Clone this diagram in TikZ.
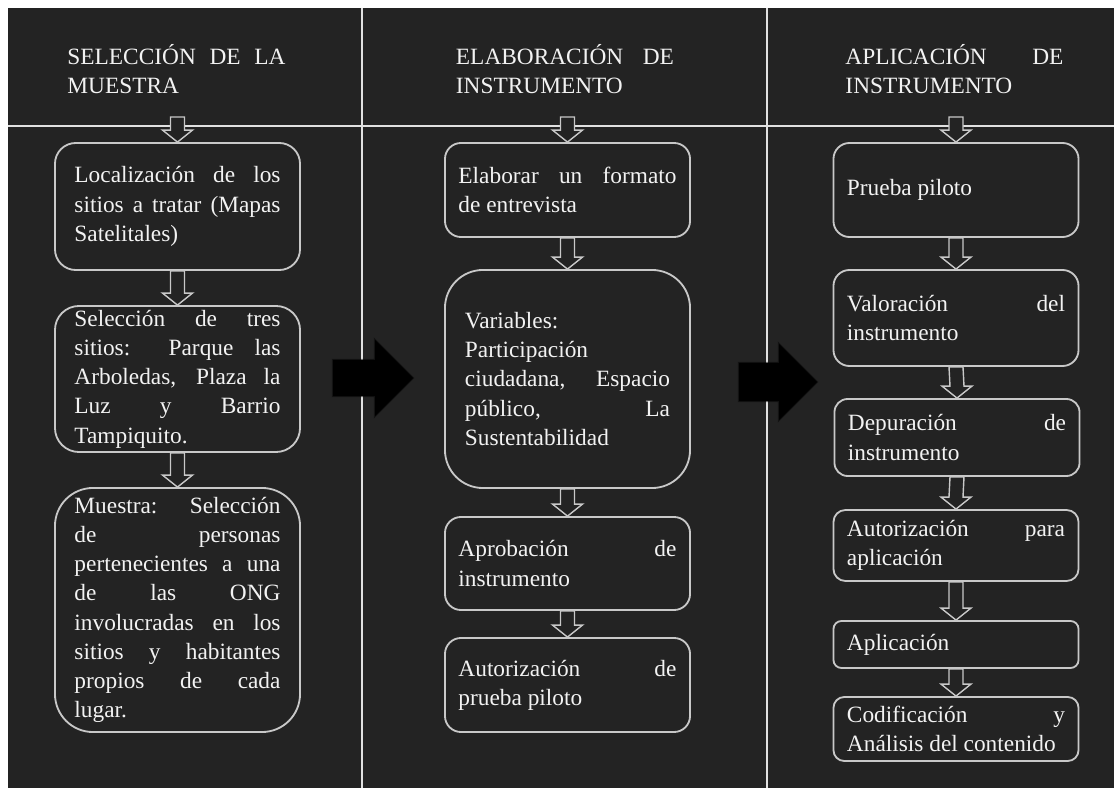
\documentclass[tikz,border=0pt]{standalone}
\usepackage{fontspec}
\setmainfont{Liberation Serif}
\usetikzlibrary{calc}
\definecolor{fondo}{RGB}{35,35,35}
\definecolor{borde}{RGB}{200,200,200}
\definecolor{divisor}{RGB}{225,225,225}
\definecolor{letra}{RGB}{242,242,242}
\tolerance=9999
\hbadness=10000
\hyphenpenalty=10000

% flecha hueca entre dos cajas
\newcommand{\flecha}[2]{%
  \draw[hueca] ($(#1)+(-7,0)$) -- ($(#2)+(-7,-12)$) -- ($(#2)+(-15,-12)$)
    -- (#2) -- ($(#2)+(15,-12)$) -- ($(#2)+(7,-12)$) -- ($(#1)+(7,0)$) -- cycle;}

% flecha negra: punta, largo de la cola, medio ancho de la cola
\newcommand{\flechanegra}[3]{%
  \fill[negra] ($(#1)+(-38-#2,-#3)$) -- ($(#1)+(-38,-#3)$) -- ($(#1)+(-38,-38)$) -- (#1)
    -- ($(#1)+(-38,38)$) -- ($(#1)+(-38,#3)$) -- ($(#1)+(-38-#2,#3)$) -- cycle;}

\begin{document}
\begin{tikzpicture}[x=0.025cm, y=-0.025cm,
    texto/.style={text=letra, align=justify, font=\fontsize{16.6}{20.8}\selectfont},
    caja/.style={texto, draw=borde, line width=1.3pt, fill=fondo, text width=5.45cm, inner xsep=0.3375cm, inner ysep=0pt},
    cajaizq/.style={caja, text width=5.15cm, inner xsep=0.4875cm},
    titulo/.style={texto, text width=5.45cm, inner sep=0pt},
    hueca/.style={draw=borde, line width=1pt, fill=fondo},
    negra/.style={fill=black, draw=black, draw opacity=0.45, line width=1.5pt, line join=miter}]

    % Fondo
    \useasboundingbox (0,0) rectangle (1114,788);
    \fill[white] (0,0) rectangle (1114,788);
    \fill[fondo] (8,8) rectangle (1114,788);

    % Divisiones
    \draw[divisor, line width=1.3pt] (8,126) -- (1114,126);
    \foreach \x in {362, 767} {
        \draw[divisor, line width=1.3pt] (\x,8) -- (\x,788);
    }

    % Títulos
    \node[titulo] (tit1) at (176.5,69) {SELECCIÓN DE LA\linebreak MUESTRA};
    \node[titulo] (tit2) at (565,69) {ELABORACIÓN DE\linebreak INSTRUMENTO};
    \node[titulo] (tit3) at (954.5,69) {APLICACIÓN DE\linebreak INSTRUMENTO};

    % Selección de la muestra
    \node[cajaizq, minimum height=3.175cm, rounded corners=0.52cm] (sel1) at (177.5,206.5)
        {Localización de los\linebreak sitios a tratar (Mapas\linebreak Satelitales)};
    \node[cajaizq, minimum height=3.65cm, rounded corners=0.6cm] (sel2) at (177.5,379)
        {Selección de tres\linebreak sitios: Parque las\linebreak Arboledas, Plaza la\linebreak Luz y Barrio\linebreak Tampiquito.};
    \node[cajaizq, minimum height=6.1cm, rounded corners=0.95cm] (sel3) at (177.5,610)
        {Muestra: Selección\linebreak de personas\linebreak pertenecientes a una\linebreak de las ONG\linebreak involucradas en los\linebreak sitios y habitantes\linebreak propios de cada\linebreak lugar.};

    % Elaboración de instrumento
    \node[caja, minimum height=2.35cm, rounded corners=0.4cm] (ela1) at (567.5,190)
        {Elaborar un formato\linebreak de entrevista};
    \node[caja, minimum height=5.45cm, rounded corners=0.95cm, text width=5.125cm, inner xsep=0.5cm] (ela2) at (567.5,379)
        {Variables:\linebreak Participación\linebreak ciudadana, Espacio\linebreak público, La\linebreak Sustentabilidad};
    \node[caja, minimum height=2.325cm, rounded corners=0.4cm] (ela3) at (567.5,563.5)
        {Aprobación de\linebreak instrumento};
    \node[caja, minimum height=2.35cm, rounded corners=0.4cm] (ela4) at (567.5,685)
        {Autorización de\linebreak prueba piloto};

    % Aplicación de instrumento
    \node[caja, minimum height=2.35cm, rounded corners=0.4cm] (apl1) at (956,190) {Prueba piloto};
    \node[caja, minimum height=2.4cm, rounded corners=0.4cm] (apl2) at (956,318)
        {Valoración del\linebreak instrumento};
    \node[caja, minimum height=1.925cm, rounded corners=0.33cm] (apl3) at (957,437.5)
        {Depuración de\linebreak instrumento};
    \node[caja, minimum height=1.775cm, rounded corners=0.3cm] (apl4) at (956,545.5)
        {Autorización para\linebreak aplicación};
    \node[caja, minimum height=1.175cm, rounded corners=0.2cm] (apl5) at (956,644.5) {Aplicación};
    \node[caja, minimum height=1.6cm, rounded corners=0.27cm] (apl6) at (956,729)
        {Codificación y\linebreak Análisis del contenido};

    % Flechas huecas
    \coordinate (ini1) at (177.5,117);
    \coordinate (ini2) at (567.5,117);
    \coordinate (ini3) at (956,117);
    \foreach \a/\b in {ini1/sel1.north, sel1.south/sel2.north, sel2.south/sel3.north,
                       ini2/ela1.north, ela1.south/ela2.north, ela2.south/ela3.north, ela3.south/ela4.north,
                       ini3/apl1.north, apl1.south/apl2.north, apl2.south/apl3.north,
                       apl3.south/apl4.north, apl4.south/apl5.north, apl5.south/apl6.north} {
        \flecha{\a}{\b}
    }

    % Flechas negras
    \coordinate (punta1) at (413,378);
    \coordinate (punta2) at (817,382);
    \flechanegra{punta1}{42}{18}
    \flechanegra{punta2}{40}{19}
\end{tikzpicture}
\end{document}
